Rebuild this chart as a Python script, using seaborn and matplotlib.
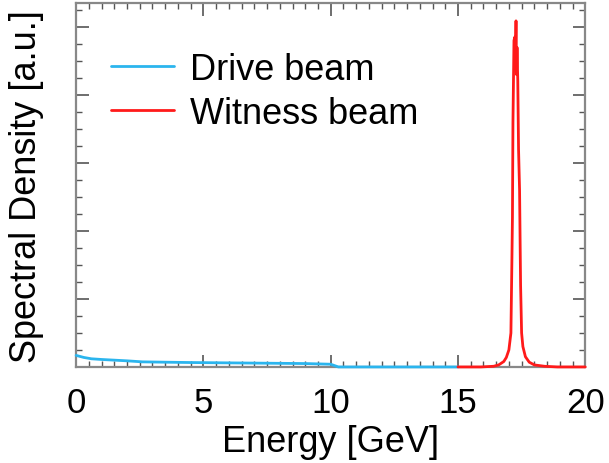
import numpy as np
import pandas as pd
import seaborn as sns
import matplotlib.pyplot as plt
from matplotlib.ticker import MultipleLocator

# Drive beam spectrum (energy in GeV, density in a.u.)
drive_energy = [0.0, 0.1, 0.3, 0.6, 1.0, 1.5, 2.0, 2.6, 3.5, 4.5, 6.0, 7.5, 9.0, 10.0, 10.3, 12.0, 15.0]
drive_density = [0.17, 0.16, 0.14, 0.12, 0.11, 0.10, 0.09, 0.075, 0.07, 0.065, 0.06, 0.055, 0.05, 0.04, 0.0, 0.0, 0.0]

# Witness beam spectrum
witness_energy = [15.0, 15.9, 16.4, 16.6, 16.8, 16.9, 17.0, 17.08, 17.12, 17.14, 17.16, 17.20,
                  17.23, 17.26, 17.28, 17.30, 17.32, 17.35, 17.38, 17.42, 17.46, 17.50,
                  17.55, 17.65, 17.8, 18.0, 18.4, 18.9, 20.0]
witness_density = [0.0, 0.0, 0.01, 0.03, 0.08, 0.14, 0.25, 0.5, 1.6, 2.2, 3.6, 4.8,
                   4.85, 4.6, 5.09, 4.3, 4.7, 4.2, 3.2, 2.6, 1.2, 0.5,
                   0.3, 0.15, 0.07, 0.03, 0.01, 0.0, 0.0]

drive = pd.DataFrame({"Energy": drive_energy, "Density": drive_density})
witness = pd.DataFrame({"Energy": witness_energy, "Density": witness_density})

sns.set_style("ticks")
plt.rcParams['font.family'] = ['Liberation Sans', 'DejaVu Sans']
plt.rcParams['text.color'] = 'black'
plt.rcParams['axes.labelcolor'] = 'black'
plt.rcParams['xtick.labelcolor'] = 'black'

fig = plt.figure(figsize=(6.09, 4.64), dpi=100)
ax = fig.add_axes([0.125, 0.207, 0.836, 0.784])

sns.lineplot(data=drive, x="Energy", y="Density", ax=ax, color="#2bb5ee",
             linewidth=2, label="Drive beam", sort=False, clip_on=False, zorder=5)
sns.lineplot(data=witness, x="Energy", y="Density", ax=ax, color="#ff1a1a",
             linewidth=2, label="Witness beam", sort=False, clip_on=False, zorder=5)

ax.set_xlim(0, 20)
ax.set_ylim(0, 5.35)
ax.xaxis.set_major_locator(MultipleLocator(5))
ax.xaxis.set_minor_locator(MultipleLocator(0.5))
ax.yaxis.set_major_locator(MultipleLocator(1))
ax.yaxis.set_minor_locator(MultipleLocator(0.25))
ax.set_yticklabels([])

ax.tick_params(which="both", direction="in", top=True, right=True, color="#555555")
ax.tick_params(which="major", length=9, width=1.2, labelsize=25, pad=14)
ax.tick_params(which="minor", length=4.5, width=1.0)
for s in ax.spines.values():
    s.set_color("#888888")
    s.set_linewidth(1.6)

ax.set_xlabel("Energy [GeV]", fontsize=26, labelpad=3)
ax.set_ylabel("Spectral Density [a.u.]", fontsize=26, labelpad=9)

ax.legend(loc="upper left", bbox_to_anchor=(0.004, 0.955), frameon=False,
          fontsize=26, handlelength=1.75, handletextpad=0.45, labelspacing=0.25)

fig.savefig("out.png", dpi=100)
